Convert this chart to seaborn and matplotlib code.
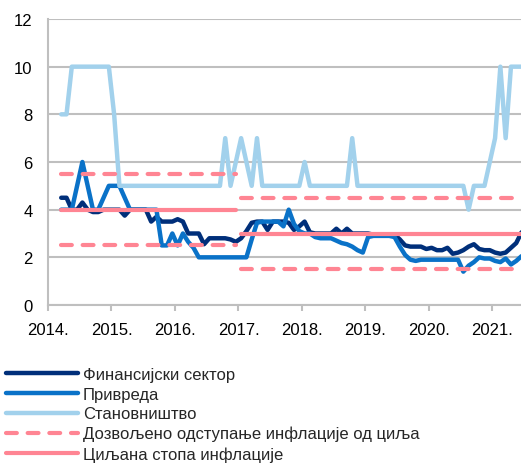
import numpy as np
import pandas as pd
import matplotlib
matplotlib.use('Agg')
import matplotlib.pyplot as plt
import seaborn as sns

# ── DATA ────────────────────────────────────────────────────
# monthly, March 2014 - June 2021
months = pd.date_range('2014-03-01', '2021-06-01', freq='MS')

finansijski = [
    4.5, 4.5, 4.0, 4.0, 4.3, 4.0, 3.9, 3.9, 4.0, 4.0,                    # 2014
    4.0, 4.0, 3.75, 4.0, 4.0, 4.0, 4.0, 3.5, 3.7, 3.5, 3.5, 3.5,         # 2015
    3.6, 3.5, 3.0, 3.0, 3.0, 2.55, 2.8, 2.8, 2.8, 2.8, 2.75, 2.65,       # 2016
    2.8, 3.1, 3.45, 3.5, 3.5, 3.15, 3.5, 3.5, 3.5, 3.45, 3.15, 3.3,      # 2017
    3.5, 3.05, 3.0, 3.0, 3.0, 3.0, 3.2, 3.0, 3.2, 3.0, 3.0, 3.0,         # 2018
    3.0, 2.95, 2.95, 2.95, 2.95, 2.95, 2.75, 2.5, 2.45, 2.45, 2.45, 2.35,  # 2019
    2.4, 2.3, 2.3, 2.4, 2.15, 2.2, 2.3, 2.45, 2.55, 2.35, 2.3, 2.3,      # 2020
    2.2, 2.15, 2.2, 2.4, 2.6, 3.05,                                      # 2021
]
privreda = [
    4.0, 4.0, 4.0, 5.0, 6.0, 5.0, 4.0, 4.0, 4.5, 5.0,
    5.0, 5.0, 4.5, 4.0, 4.0, 4.0, 4.0, 4.0, 4.0, 2.5, 2.5, 3.0,
    2.5, 3.0, 2.65, 2.4, 2.0, 2.0, 2.0, 2.0, 2.0, 2.0, 2.0, 2.0,
    2.0, 2.0, 2.75, 3.45, 3.5, 3.5, 3.5, 3.5, 3.3, 4.0, 3.4, 3.1,
    3.0, 3.0, 2.85, 2.8, 2.8, 2.8, 2.7, 2.6, 2.55, 2.45, 2.3, 2.2,
    2.85, 2.9, 2.9, 2.9, 2.9, 2.85, 2.45, 2.1, 1.9, 1.85, 1.9, 1.9,
    1.9, 1.9, 1.9, 1.9, 1.9, 1.9, 1.4, 1.65, 1.8, 2.0, 1.95, 1.95,
    1.85, 1.8, 1.95, 1.7, 1.85, 2.05,
]
stanovnistvo = [
    8, 8, 10, 10, 10, 10, 10, 10, 10, 10,
    8, 5, 5, 5, 5, 5, 5, 5, 5, 5, 5, 5,
    5, 5, 5, 5, 5, 5, 5, 5, 5, 7, 5, 6,
    7, 6, 5, 7, 5, 5, 5, 5, 5, 5, 5, 5,
    6, 5, 5, 5, 5, 5, 5, 5, 5, 7, 5, 5,
    5, 5, 5, 5, 5, 5, 5, 5, 5, 5, 5, 5,
    5, 5, 5, 5, 5, 5, 5, 4, 5, 5, 5, 6,
    7, 10, 7, 10, 10, 10,
]

# inflation target and allowed deviation, by period
period_start = ['2014-03-01', '2017-01-01']
period_end = ['2016-12-01', '2021-06-01']
target = [4.0, 3.0]
tolerance = [1.5, 1.5]

year_ticks = [2014, 2015, 2016, 2017, 2018, 2019, 2020, 2021]
year_labels = [f"{y}." for y in year_ticks]

labels = ["Финансијски сектор", "Привреда", "Становништво",
          "Дозвољено одступање инфлације од циља", "Циљана стопа инфлације"]
colors = ['#002F7A', '#0A72C8', '#A2D1EC', '#FF8593', '#FF8593']

# ── PLOT ────────────────────────────────────────────────────
sns.set_theme(style='white')
plt.rcParams['font.family'] = ['Liberation Sans', 'DejaVu Sans']

df = pd.DataFrame({'date': months,
                   'fin': finansijski, 'priv': privreda, 'stan': stanovnistvo})
df['x'] = df['date'].dt.year + (df['date'].dt.month - 0.5) / 12

fig = plt.figure(figsize=(5.21, 4.64), dpi=100)
ax = fig.add_axes([48/521, 1 - 306/464, 1 - 48/521, (306 - 20)/464])

lw = 3.2
for col, lab, c in zip(['fin', 'priv', 'stan'], labels[:3], colors[:3]):
    sns.lineplot(data=df, x='x', y=col, color=c, linewidth=lw, label=lab, ax=ax)

for i, (s, e, t, tol) in enumerate(zip(period_start, period_end, target, tolerance)):
    sub = df[(df['date'] >= s) & (df['date'] <= e)].copy()
    sub['upper'] = t + tol
    sub['lower'] = t - tol
    sub['target'] = t
    for col in ['upper', 'lower']:
        sns.lineplot(data=sub, x='x', y=col, color=colors[3], linewidth=3.0,
                     label=labels[3] if (i == 0 and col == 'upper') else None, ax=ax)
        ln = ax.lines[-1]
        ln.set_dashes([2.6, 2.6])
        ln.set_dash_capstyle('round')
    sns.lineplot(data=sub, x='x', y='target', color=colors[4], linewidth=3.0,
                 label=labels[4] if i == 0 else None, ax=ax)

ax.set_xlim(2014, 2021.45)
ax.set_ylim(0, 12)
ax.set_yticks(range(0, 13, 2))
ax.set_xticks(year_ticks)
ax.set_xticklabels(year_labels)
ax.set_xlabel("")
ax.set_ylabel("")

ax.grid(axis='y', color='#BFBFBF', linewidth=1.5)
ax.grid(axis='x', visible=False)
ax.set_axisbelow(True)
for side in ['top', 'right']:
    ax.spines[side].set_visible(False)
for side in ['left', 'bottom']:
    ax.spines[side].set_color('#BFBFBF')
    ax.spines[side].set_linewidth(1.5)
ax.tick_params(axis='x', direction='out', length=4.5, width=1.5, color='#BFBFBF',
               pad=8, labelsize=12, labelcolor='black', bottom=True)
ax.tick_params(axis='y', length=0, pad=11, labelsize=12, labelcolor='black')

handles, labs = ax.get_legend_handles_labels()
ax.get_legend().remove()
fig.legend(handles, labs, loc='upper left', bbox_to_anchor=(6/521, 1 - 368/464),
           frameon=False, fontsize=12, handlelength=4.3, handletextpad=0.3,
           labelspacing=0.28, borderpad=0, borderaxespad=0)

plt.savefig("out.png", dpi=100)
